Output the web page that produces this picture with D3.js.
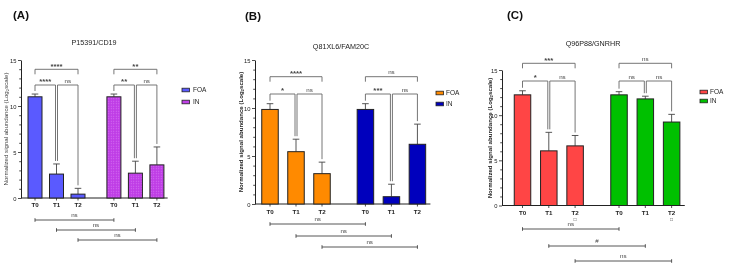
<!DOCTYPE html>
<html>
<head>
<meta charset="utf-8">
<script src="https://cdn.jsdelivr.net/npm/d3@7"></script>
<style>
  body { margin: 0; background: #fff; }
  svg { will-change: transform; }
  text { font-family: "Liberation Sans", Arial, sans-serif; }
</style>
</head>
<body>
<div id="viz"></div>
<script>

// data

const groups = ["FOA", "IN"];
const times = ["T0", "T1", "T2"];
const panelLetters = ["(A)", "(B)", "(C)"];
const proteins = ["P15391/CD19", "Q81XL6/FAM20C", "Q96P88/GNRHR"];
const yTicks = [0, 5, 10, 15];

const meanA = { FOA: [11.0, 2.6, 0.42], IN: [11.0, 2.7, 3.6] };
const sdA   = { FOA: [0.3, 1.1, 0.63],  IN: [0.3, 1.3, 1.95] };
const meanB = { FOA: [9.85, 5.45, 3.16], IN: [9.85, 0.76, 6.22] };
const sdB   = { FOA: [0.6, 1.3, 1.2],    IN: [0.6, 1.3, 2.1] };
const meanC = { FOA: [12.25, 6.05, 6.6], IN: [12.25, 11.8, 9.24] };
const sdC   = { FOA: [0.45, 2.05, 1.15], IN: [0.35, 0.3, 0.85] };

// within-group significance: [T0-T2, T0-T1, T1-T2]
const sigA = { FOA: ["****", "****", "ns"], IN: ["**", "**", "ns"] };
const sigB = { FOA: ["****", "*", "ns"],    IN: ["ns", "***", "ns"] };
const sigC = { FOA: ["***", "*", "ns"],     IN: ["ns", "ns", "ns"] };

// between-group (FOA Tk vs IN Tk)
const crossA = ["ns", "ns", "ns"];
const crossB = ["ns", "ns", "ns"];
const crossC = ["ns", "#", "ns"];

// layout

const panels = [
  { mean: meanA, sd: sdA, sig: sigA, cross: crossA,
    colors: { FOA: "#5a5aff", IN: "url(#dots)" }, swatch: { FOA: "#5a5aff", IN: "#c040e8" },
    axisX: 21, first: 35, step: 21.5, barW: 14, y0: 198, y15: 60,
    bracketTop: 69.3, bracketLow: 85, crossY: [220, 230, 240], tickY: 205.5,
    title: [94, 45], letter: [13, 19], ylabel: [6, 129, "normal"], legend: [182, 193],
    legY: [90, 12], xLabelBox: false },
  { mean: meanB, sd: sdB, sig: sigB, cross: crossB,
    colors: { FOA: "#ff8a00", IN: "#0000bd" }, swatch: { FOA: "#ff8a00", IN: "#0000bd" },
    axisX: 255, first: 270, step: 26, barW: 16.5, y0: 204, y15: 60,
    bracketTop: 76.7, bracketLow: 94, crossY: [224, 236, 247], tickY: 212,
    title: [341, 49], letter: [245, 20], ylabel: [241, 132, "bold"], legend: [436, 446],
    legY: [93, 11], xLabelBox: false },
  { mean: meanC, sd: sdC, sig: sigC, cross: crossC,
    colors: { FOA: "#ff4545", IN: "#00c000" }, swatch: { FOA: "#ff4545", IN: "#00c000" },
    axisX: 502, first: 522.5, step: 26.3, barW: 16.5, y0: 205.5, y15: 70,
    bracketTop: 63.3, bracketLow: 81, crossY: [229, 246, 261], tickY: 213,
    title: [593, 46], letter: [507, 19], ylabel: [490, 138, "bold"], legend: [700, 710],
    legY: [92, 9], xLabelBox: true }
];

const groupOffset = 3.67;
const lineCol = "#666";

// canvas

const svg = d3.select("#viz")
  .append("svg")
    .attr("width", 729)
    .attr("height", 265);

svg.append("rect").attr("width", 729).attr("height", 265).attr("fill", "#fff");

const defs = svg.append("defs");
const pat = defs.append("pattern")
    .attr("id", "dots")
    .attr("width", 2.5)
    .attr("height", 2.5)
    .attr("patternUnits", "userSpaceOnUse");
pat.append("rect").attr("width", 2.5).attr("height", 2.5).attr("fill", "#bf3ce6");
pat.append("circle").attr("cx", 1.25).attr("cy", 1.25).attr("r", 0.55).attr("fill", "#d77af2");

panels.forEach((p, pi) => {

  const g = svg.append("g");

  // scales
  const x = d3.scaleLinear()
    .domain([0, 1])
    .range([p.first, p.first + p.step]);
  const pos = (gi, ti) => x(ti + gi * groupOffset);

  const y = d3.scaleLinear()
    .domain([0, 15])
    .range([p.y0, p.y15]);

  // peripherals
  g.append("text")
    .attr("x", p.letter[0]).attr("y", p.letter[1])
    .attr("font-size", 11.5).attr("font-weight", "bold")
    .attr("fill", "#111")
    .text(panelLetters[pi]);

  g.append("text")
    .attr("x", p.title[0]).attr("y", p.title[1])
    .attr("text-anchor", "middle")
    .attr("font-size", 7.2)
    .attr("fill", "#222")
    .text(proteins[pi]);

  const yl = g.append("text")
    .attr("transform", `translate(${p.ylabel[0]},${p.ylabel[1]}) rotate(-90)`)
    .attr("text-anchor", "middle")
    .attr("dominant-baseline", "middle")
    .attr("font-size", 6.1)
    .attr("font-weight", p.ylabel[2])
    .attr("fill", p.ylabel[2] === "bold" ? "#222" : "#444");
  yl.append("tspan").text("Normalized signal abundance (Log");
  yl.append("tspan").attr("font-size", 4.3).attr("dy", 1.5).text("2");
  yl.append("tspan").attr("dy", -1.5).text("scale)");

  // y axis
  const yAxis = d3.axisLeft(y)
    .tickValues(d3.range(0, 16, 1))
    .tickSize(0)
    .tickFormat("");
  const ya = g.append("g")
    .attr("transform", `translate(${p.axisX},0)`)
    .call(yAxis);
  ya.select(".domain").attr("stroke", "#222").attr("stroke-width", 1);
  ya.selectAll(".tick line")
    .attr("x2", d => yTicks.includes(d) ? -3 : -1.8)
    .attr("stroke", "#222")
    .attr("stroke-width", 0.8);
  ya.selectAll(".tick")
    .filter(d => yTicks.includes(d))
    .append("text")
      .attr("x", -4.5)
      .attr("dy", "0.35em")
      .attr("text-anchor", "end")
      .attr("font-size", 5.8)
      .attr("fill", "#222")
      .text(d => d);

  // x axis
  const xEnd = pos(1, 2) + p.step * 0.5;
  g.append("line")
    .attr("x1", p.axisX).attr("x2", xEnd)
    .attr("y1", y(0)).attr("y2", y(0))
    .attr("stroke", "#222").attr("stroke-width", 1);

  const cells = [];
  groups.forEach((grp, gi) => {
    times.forEach((t, ti) => {
      cells.push({ grp, gi, t, ti, m: p.mean[grp][ti], s: p.sd[grp][ti] });
    });
  });

  g.selectAll(".xtick").data(cells).enter()
    .append("line")
      .attr("x1", d => pos(d.gi, d.ti)).attr("x2", d => pos(d.gi, d.ti))
      .attr("y1", y(0)).attr("y2", y(0) + 2.5)
      .attr("stroke", "#222").attr("stroke-width", 0.8);

  g.selectAll(".xlab").data(cells).enter()
    .append("text")
      .attr("x", d => pos(d.gi, d.ti))
      .attr("y", p.tickY)
      .attr("text-anchor", "middle")
      .attr("dominant-baseline", "middle")
      .attr("font-size", 6.2)
      .attr("font-weight", "bold")
      .attr("fill", "#222")
      .text(d => d.t);

  if (p.xLabelBox) {
    g.selectAll(".xbox").data(cells.filter(d => d.ti === 2)).enter()
      .append("text")
        .attr("x", d => pos(d.gi, d.ti))
        .attr("y", p.tickY + 6.5)
        .attr("text-anchor", "middle")
        .attr("dominant-baseline", "middle")
        .attr("font-size", 5)
        .attr("fill", "#444")
        .text("\u25A1");
  }

  // error bars
  const eb = g.selectAll(".err").data(cells).enter().append("g");
  eb.append("line")
    .attr("x1", d => pos(d.gi, d.ti)).attr("x2", d => pos(d.gi, d.ti))
    .attr("y1", d => y(d.m)).attr("y2", d => y(d.m + d.s))
    .attr("stroke", "#444").attr("stroke-width", 0.9);
  eb.append("line")
    .attr("x1", d => pos(d.gi, d.ti) - 3.3).attr("x2", d => pos(d.gi, d.ti) + 3.3)
    .attr("y1", d => y(d.m + d.s)).attr("y2", d => y(d.m + d.s))
    .attr("stroke", "#444").attr("stroke-width", 0.9);

  // bars
  g.selectAll(".bar").data(cells).enter()
    .append("rect")
      .attr("x", d => pos(d.gi, d.ti) - p.barW / 2)
      .attr("width", p.barW)
      .attr("y", d => y(d.m))
      .attr("height", d => y(0) - y(d.m))
      .attr("fill", d => p.colors[d.grp])
      .attr("stroke", "#222")
      .attr("stroke-width", 1);

  // within-group brackets
  groups.forEach((grp, gi) => {
    const top = i => y(p.mean[grp][i] + p.sd[grp][i]) - 3;
    const c = i => pos(gi, i);
    const brackets = [
      { x1: c(0), x2: c(2), yb: p.bracketTop, l1: p.bracketTop + 5, l2: p.bracketTop + 5, lab: p.sig[grp][0] },
      { x1: c(0), x2: c(1) - 1, yb: p.bracketLow, l1: top(0), l2: top(1), lab: p.sig[grp][1] },
      { x1: c(1) + 1, x2: c(2), yb: p.bracketLow, l1: top(1), l2: top(2), lab: p.sig[grp][2] }
    ];
    const bg = g.selectAll(null).data(brackets).enter().append("g");
    bg.append("path")
      .attr("d", d => `M${d.x1},${d.l1}V${d.yb}H${d.x2}V${d.l2}`)
      .attr("fill", "none")
      .attr("stroke", lineCol)
      .attr("stroke-width", 0.9);
    bg.append("text")
      .attr("x", d => (d.x1 + d.x2) / 2)
      .attr("y", d => d.yb - (d.lab === "ns" ? 2.5 : 0.8))
      .attr("text-anchor", "middle")
      .attr("font-size", d => d.lab === "ns" ? 6.2 : 7.8)
      .attr("font-weight", d => d.lab === "ns" ? "normal" : "bold")
      .attr("fill", "#444")
      .text(d => d.lab);
  });

  // between-group comparisons
  const cross = times.map((t, ti) => ({ x1: pos(0, ti), x2: pos(1, ti), yb: p.crossY[ti], lab: p.cross[ti] }));
  const cg = g.selectAll(null).data(cross).enter().append("g");
  cg.append("path")
    .attr("d", d => `M${d.x1},${d.yb - 1.8}V${d.yb + 1.8}M${d.x1},${d.yb}H${d.x2}M${d.x2},${d.yb - 1.8}V${d.yb + 1.8}`)
    .attr("fill", "none")
    .attr("stroke", "#444")
    .attr("stroke-width", 0.9);
  cg.append("text")
    .attr("x", d => (d.x1 + d.x2) / 2)
    .attr("y", d => d.yb - 3.5)
    .attr("text-anchor", "middle")
    .attr("font-size", 6.2)
    .attr("fill", "#444")
    .text(d => d.lab);

  // legend
  const lg = g.selectAll(".leg").data(groups).enter().append("g")
    .attr("transform", (d, i) => `translate(${p.legend[0]},${p.legY[0] + i * p.legY[1]})`);
  lg.append("rect")
    .attr("x", 0).attr("y", -1.8)
    .attr("width", 7.5).attr("height", 3.6)
    .attr("fill", d => p.swatch[d])
    .attr("stroke", "#222").attr("stroke-width", 0.8);
  lg.append("text")
    .attr("x", p.legend[1] - p.legend[0])
    .attr("dy", "0.35em")
    .attr("font-size", 6.5)
    .attr("fill", "#222")
    .text(d => d);
});

</script>
</body>
</html>
